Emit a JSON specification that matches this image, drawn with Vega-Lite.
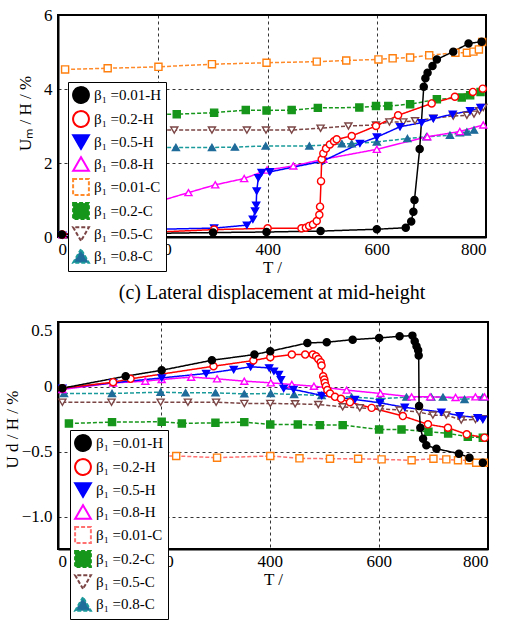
{
  "$schema": "https://vega.github.io/schema/vega-lite/v6.json",
  "padding": {"left": 2, "top": 5, "right": 5, "bottom": 5},
  "datasets": {
    "c": [
      {"s": "β₁ =0.8-C", "T": 150, "V": 2.42}, {"s": "β₁ =0.8-C", "T": 232, "V": 2.42}, {"s": "β₁ =0.8-C", "T": 298, "V": 2.42}, {"s": "β₁ =0.8-C", "T": 340, "V": 2.43}, {"s": "β₁ =0.8-C", "T": 396.5, "V": 2.46}, {"s": "β₁ =0.8-C", "T": 476.5, "V": 2.46}, {"s": "β₁ =0.8-C", "T": 536, "V": 2.52}, {"s": "β₁ =0.8-C", "T": 554, "V": 2.52}, {"s": "β₁ =0.8-C", "T": 600, "V": 2.57}, {"s": "β₁ =0.8-C", "T": 656, "V": 2.66}, {"s": "β₁ =0.8-C", "T": 691, "V": 2.71}, {"s": "β₁ =0.8-C", "T": 734, "V": 2.75}, {"s": "β₁ =0.8-C", "T": 752, "V": 2.82}, {"s": "β₁ =0.8-C", "T": 765, "V": 2.84}, {"s": "β₁ =0.8-C", "T": 778, "V": 2.89},
      {"s": "β₁ =0.5-C", "T": 150, "V": 2.89}, {"s": "β₁ =0.5-C", "T": 229, "V": 2.89}, {"s": "β₁ =0.5-C", "T": 298, "V": 2.89}, {"s": "β₁ =0.5-C", "T": 362, "V": 2.89}, {"s": "β₁ =0.5-C", "T": 397, "V": 2.89}, {"s": "β₁ =0.5-C", "T": 444, "V": 2.89}, {"s": "β₁ =0.5-C", "T": 497, "V": 2.94}, {"s": "β₁ =0.5-C", "T": 548, "V": 3.0}, {"s": "β₁ =0.5-C", "T": 598.5, "V": 3.03}, {"s": "β₁ =0.5-C", "T": 623, "V": 3.11}, {"s": "β₁ =0.5-C", "T": 648.5, "V": 3.11}, {"s": "β₁ =0.5-C", "T": 670, "V": 3.14}, {"s": "β₁ =0.5-C", "T": 703.5, "V": 3.21}, {"s": "β₁ =0.5-C", "T": 740, "V": 3.27}, {"s": "β₁ =0.5-C", "T": 765, "V": 3.29}, {"s": "β₁ =0.5-C", "T": 778, "V": 3.32}, {"s": "β₁ =0.5-C", "T": 788, "V": 3.41}, {"s": "β₁ =0.5-C", "T": 795, "V": 3.5},
      {"s": "β₁ =0.2-C", "T": 150, "V": 3.3}, {"s": "β₁ =0.2-C", "T": 233.5, "V": 3.32}, {"s": "β₁ =0.2-C", "T": 302, "V": 3.36}, {"s": "β₁ =0.2-C", "T": 360, "V": 3.43}, {"s": "β₁ =0.2-C", "T": 398, "V": 3.42}, {"s": "β₁ =0.2-C", "T": 444, "V": 3.43}, {"s": "β₁ =0.2-C", "T": 492, "V": 3.49}, {"s": "β₁ =0.2-C", "T": 568, "V": 3.5}, {"s": "β₁ =0.2-C", "T": 598.5, "V": 3.54}, {"s": "β₁ =0.2-C", "T": 621, "V": 3.54}, {"s": "β₁ =0.2-C", "T": 661, "V": 3.59}, {"s": "β₁ =0.2-C", "T": 710, "V": 3.72}, {"s": "β₁ =0.2-C", "T": 755.5, "V": 3.77}, {"s": "β₁ =0.2-C", "T": 771, "V": 3.83}, {"s": "β₁ =0.2-C", "T": 790, "V": 3.92},
      {"s": "β₁ =0.01-C", "T": 29, "V": 4.53}, {"s": "β₁ =0.01-C", "T": 107, "V": 4.56}, {"s": "β₁ =0.01-C", "T": 200, "V": 4.6}, {"s": "β₁ =0.01-C", "T": 298, "V": 4.67}, {"s": "β₁ =0.01-C", "T": 398, "V": 4.71}, {"s": "β₁ =0.01-C", "T": 490, "V": 4.74}, {"s": "β₁ =0.01-C", "T": 544, "V": 4.77}, {"s": "β₁ =0.01-C", "T": 603, "V": 4.8}, {"s": "β₁ =0.01-C", "T": 629, "V": 4.83}, {"s": "β₁ =0.01-C", "T": 661, "V": 4.85}, {"s": "β₁ =0.01-C", "T": 696, "V": 4.91}, {"s": "β₁ =0.01-C", "T": 744, "V": 4.98}, {"s": "β₁ =0.01-C", "T": 765, "V": 4.98}, {"s": "β₁ =0.01-C", "T": 777, "V": 5.01}, {"s": "β₁ =0.01-C", "T": 787, "V": 5.07}, {"s": "β₁ =0.01-C", "T": 793, "V": 5.27},
      {"s": "β₁ =0.8-H", "T": 24, "V": 0.07}, {"s": "β₁ =0.8-H", "T": 99, "V": 0.19}, {"s": "β₁ =0.8-H", "T": 131.5, "V": 0.17}, {"s": "β₁ =0.8-H", "T": 145, "V": 0.21}, {"s": "β₁ =0.8-H", "T": 152, "V": 0.34}, {"s": "β₁ =0.8-H", "T": 157, "V": 0.46}, {"s": "β₁ =0.8-H", "T": 162, "V": 0.59}, {"s": "β₁ =0.8-H", "T": 169, "V": 0.7}, {"s": "β₁ =0.8-H", "T": 175.5, "V": 0.77}, {"s": "β₁ =0.8-H", "T": 189, "V": 0.88}, {"s": "β₁ =0.8-H", "T": 200, "V": 0.96}, {"s": "β₁ =0.8-H", "T": 255, "V": 1.2}, {"s": "β₁ =0.8-H", "T": 304, "V": 1.41}, {"s": "β₁ =0.8-H", "T": 357, "V": 1.58}, {"s": "β₁ =0.8-H", "T": 399, "V": 1.81}, {"s": "β₁ =0.8-H", "T": 447, "V": 1.92}, {"s": "β₁ =0.8-H", "T": 502, "V": 2.1}, {"s": "β₁ =0.8-H", "T": 600, "V": 2.37}, {"s": "β₁ =0.8-H", "T": 692.5, "V": 2.71}, {"s": "β₁ =0.8-H", "T": 752, "V": 2.85}, {"s": "β₁ =0.8-H", "T": 795, "V": 3.03},
      {"s": "β₁ =0.5-H", "T": 24, "V": 0.05}, {"s": "β₁ =0.5-H", "T": 99, "V": 0.135}, {"s": "β₁ =0.5-H", "T": 201, "V": 0.21}, {"s": "β₁ =0.5-H", "T": 302, "V": 0.24}, {"s": "β₁ =0.5-H", "T": 362, "V": 0.32}, {"s": "β₁ =0.5-H", "T": 373, "V": 0.48}, {"s": "β₁ =0.5-H", "T": 377, "V": 0.7}, {"s": "β₁ =0.5-H", "T": 379, "V": 0.86}, {"s": "β₁ =0.5-H", "T": 380, "V": 1.24}, {"s": "β₁ =0.5-H", "T": 383, "V": 1.6}, {"s": "β₁ =0.5-H", "T": 389, "V": 1.74}, {"s": "β₁ =0.5-H", "T": 404, "V": 1.76}, {"s": "β₁ =0.5-H", "T": 501, "V": 2.05}, {"s": "β₁ =0.5-H", "T": 569, "V": 2.53}, {"s": "β₁ =0.5-H", "T": 600, "V": 2.7}, {"s": "β₁ =0.5-H", "T": 642.5, "V": 2.98}, {"s": "β₁ =0.5-H", "T": 682, "V": 3.09}, {"s": "β₁ =0.5-H", "T": 703.5, "V": 3.2}, {"s": "β₁ =0.5-H", "T": 739, "V": 3.32}, {"s": "β₁ =0.5-H", "T": 771, "V": 3.41}, {"s": "β₁ =0.5-H", "T": 790, "V": 3.5},
      {"s": "β₁ =0.2-H", "T": 24, "V": 0.07}, {"s": "β₁ =0.2-H", "T": 201, "V": 0.135}, {"s": "β₁ =0.2-H", "T": 302, "V": 0.2}, {"s": "β₁ =0.2-H", "T": 400, "V": 0.235}, {"s": "β₁ =0.2-H", "T": 462, "V": 0.235}, {"s": "β₁ =0.2-H", "T": 470, "V": 0.25}, {"s": "β₁ =0.2-H", "T": 476, "V": 0.3}, {"s": "β₁ =0.2-H", "T": 483, "V": 0.34}, {"s": "β₁ =0.2-H", "T": 490, "V": 0.43}, {"s": "β₁ =0.2-H", "T": 494.7, "V": 0.6}, {"s": "β₁ =0.2-H", "T": 496, "V": 0.82}, {"s": "β₁ =0.2-H", "T": 497.8, "V": 1.51}, {"s": "β₁ =0.2-H", "T": 499, "V": 2.1}, {"s": "β₁ =0.2-H", "T": 502, "V": 2.26}, {"s": "β₁ =0.2-H", "T": 507, "V": 2.39}, {"s": "β₁ =0.2-H", "T": 514, "V": 2.5}, {"s": "β₁ =0.2-H", "T": 521.6, "V": 2.59}, {"s": "β₁ =0.2-H", "T": 526.5, "V": 2.64}, {"s": "β₁ =0.2-H", "T": 554, "V": 2.73}, {"s": "β₁ =0.2-H", "T": 598.5, "V": 3.0}, {"s": "β₁ =0.2-H", "T": 639, "V": 3.29}, {"s": "β₁ =0.2-H", "T": 700.5, "V": 3.61}, {"s": "β₁ =0.2-H", "T": 743, "V": 3.79}, {"s": "β₁ =0.2-H", "T": 776, "V": 3.92}, {"s": "β₁ =0.2-H", "T": 794, "V": 4.01},
      {"s": "β₁ =0.01-H", "T": 23, "V": 0.07}, {"s": "β₁ =0.01-H", "T": 200, "V": 0.1}, {"s": "β₁ =0.01-H", "T": 300, "V": 0.12}, {"s": "β₁ =0.01-H", "T": 398, "V": 0.135}, {"s": "β₁ =0.01-H", "T": 497, "V": 0.16}, {"s": "β₁ =0.01-H", "T": 600, "V": 0.21}, {"s": "β₁ =0.01-H", "T": 653, "V": 0.25}, {"s": "β₁ =0.01-H", "T": 663, "V": 0.42}, {"s": "β₁ =0.01-H", "T": 667, "V": 0.68}, {"s": "β₁ =0.01-H", "T": 669, "V": 1.0}, {"s": "β₁ =0.01-H", "T": 678.5, "V": 2.38}, {"s": "β₁ =0.01-H", "T": 686, "V": 4.06}, {"s": "β₁ =0.01-H", "T": 689, "V": 4.29}, {"s": "β₁ =0.01-H", "T": 693, "V": 4.44}, {"s": "β₁ =0.01-H", "T": 702, "V": 4.62}, {"s": "β₁ =0.01-H", "T": 710, "V": 4.8}, {"s": "β₁ =0.01-H", "T": 740, "V": 5.01}, {"s": "β₁ =0.01-H", "T": 768, "V": 5.23}, {"s": "β₁ =0.01-H", "T": 792, "V": 5.28}
    ],
    "d": [
      {"s": "β₁ =0.8-C", "T": 23, "V": -0.051}, {"s": "β₁ =0.8-C", "T": 111, "V": -0.051}, {"s": "β₁ =0.8-C", "T": 200, "V": -0.041}, {"s": "β₁ =0.8-C", "T": 245.7, "V": -0.046}, {"s": "β₁ =0.8-C", "T": 300.5, "V": -0.046}, {"s": "β₁ =0.8-C", "T": 353.4, "V": -0.054}, {"s": "β₁ =0.8-C", "T": 402, "V": -0.051}, {"s": "β₁ =0.8-C", "T": 444.7, "V": -0.059}, {"s": "β₁ =0.8-C", "T": 495, "V": -0.066}, {"s": "β₁ =0.8-C", "T": 550, "V": -0.079}, {"s": "β₁ =0.8-C", "T": 602, "V": -0.092}, {"s": "β₁ =0.8-C", "T": 650.6, "V": -0.079}, {"s": "β₁ =0.8-C", "T": 696, "V": -0.079}, {"s": "β₁ =0.8-C", "T": 717.5, "V": -0.079}, {"s": "β₁ =0.8-C", "T": 757, "V": -0.097}, {"s": "β₁ =0.8-C", "T": 790.5, "V": -0.079},
      {"s": "β₁ =0.5-C", "T": 20, "V": -0.118}, {"s": "β₁ =0.5-C", "T": 110, "V": -0.118}, {"s": "β₁ =0.5-C", "T": 200, "V": -0.118}, {"s": "β₁ =0.5-C", "T": 250, "V": -0.118}, {"s": "β₁ =0.5-C", "T": 301.7, "V": -0.118}, {"s": "β₁ =0.5-C", "T": 353.4, "V": -0.128}, {"s": "β₁ =0.5-C", "T": 401, "V": -0.128}, {"s": "β₁ =0.5-C", "T": 446.6, "V": -0.131}, {"s": "β₁ =0.5-C", "T": 489, "V": -0.136}, {"s": "β₁ =0.5-C", "T": 533.7, "V": -0.154}, {"s": "β₁ =0.5-C", "T": 565, "V": -0.162}, {"s": "β₁ =0.5-C", "T": 602, "V": -0.169}, {"s": "β₁ =0.5-C", "T": 638, "V": -0.179}, {"s": "β₁ =0.5-C", "T": 673.6, "V": -0.195}, {"s": "β₁ =0.5-C", "T": 699, "V": -0.218}, {"s": "β₁ =0.5-C", "T": 723.6, "V": -0.218}, {"s": "β₁ =0.5-C", "T": 751, "V": -0.256}, {"s": "β₁ =0.5-C", "T": 777, "V": -0.251}, {"s": "β₁ =0.5-C", "T": 790.5, "V": -0.246},
      {"s": "β₁ =0.2-C", "T": 32, "V": -0.282}, {"s": "β₁ =0.2-C", "T": 111, "V": -0.272}, {"s": "β₁ =0.2-C", "T": 202, "V": -0.269}, {"s": "β₁ =0.2-C", "T": 239, "V": -0.282}, {"s": "β₁ =0.2-C", "T": 300.5, "V": -0.277}, {"s": "β₁ =0.2-C", "T": 353.4, "V": -0.272}, {"s": "β₁ =0.2-C", "T": 401, "V": -0.29}, {"s": "β₁ =0.2-C", "T": 451.5, "V": -0.29}, {"s": "β₁ =0.2-C", "T": 492, "V": -0.295}, {"s": "β₁ =0.2-C", "T": 533.7, "V": -0.295}, {"s": "β₁ =0.2-C", "T": 600.5, "V": -0.328}, {"s": "β₁ =0.2-C", "T": 641.5, "V": -0.328}, {"s": "β₁ =0.2-C", "T": 690.8, "V": -0.346}, {"s": "β₁ =0.2-C", "T": 727, "V": -0.359}, {"s": "β₁ =0.2-C", "T": 763, "V": -0.385}, {"s": "β₁ =0.2-C", "T": 790.5, "V": -0.392},
      {"s": "β₁ =0.01-C", "T": 150, "V": -0.53}, {"s": "β₁ =0.01-C", "T": 228.6, "V": -0.533}, {"s": "β₁ =0.01-C", "T": 303.5, "V": -0.546}, {"s": "β₁ =0.01-C", "T": 401, "V": -0.533}, {"s": "β₁ =0.01-C", "T": 454.5, "V": -0.551}, {"s": "β₁ =0.01-C", "T": 510.5, "V": -0.554}, {"s": "β₁ =0.01-C", "T": 562, "V": -0.554}, {"s": "β₁ =0.01-C", "T": 605, "V": -0.559}, {"s": "β₁ =0.01-C", "T": 660, "V": -0.566}, {"s": "β₁ =0.01-C", "T": 700, "V": -0.554}, {"s": "β₁ =0.01-C", "T": 723.6, "V": -0.559}, {"s": "β₁ =0.01-C", "T": 745, "V": -0.566}, {"s": "β₁ =0.01-C", "T": 765, "V": -0.566}, {"s": "β₁ =0.01-C", "T": 778.4, "V": -0.585}, {"s": "β₁ =0.01-C", "T": 792.4, "V": -0.585},
      {"s": "β₁ =0.8-H", "T": 20, "V": -0.02}, {"s": "β₁ =0.8-H", "T": 113, "V": 0.03}, {"s": "β₁ =0.8-H", "T": 172, "V": 0.044}, {"s": "β₁ =0.8-H", "T": 202, "V": 0.057}, {"s": "β₁ =0.8-H", "T": 256, "V": 0.075}, {"s": "β₁ =0.8-H", "T": 303.5, "V": 0.062}, {"s": "β₁ =0.8-H", "T": 353.4, "V": 0.044}, {"s": "β₁ =0.8-H", "T": 402, "V": 0.031}, {"s": "β₁ =0.8-H", "T": 440.5, "V": 0.018}, {"s": "β₁ =0.8-H", "T": 481, "V": 0.005}, {"s": "β₁ =0.8-H", "T": 541, "V": -0.025}, {"s": "β₁ =0.8-H", "T": 603, "V": -0.051}, {"s": "β₁ =0.8-H", "T": 660, "V": -0.077}, {"s": "β₁ =0.8-H", "T": 694, "V": -0.077}, {"s": "β₁ =0.8-H", "T": 740.6, "V": -0.082}, {"s": "β₁ =0.8-H", "T": 777, "V": -0.077}, {"s": "β₁ =0.8-H", "T": 793.6, "V": -0.077},
      {"s": "β₁ =0.5-H", "T": 20, "V": -0.01}, {"s": "β₁ =0.5-H", "T": 113, "V": 0.031}, {"s": "β₁ =0.5-H", "T": 202, "V": 0.069}, {"s": "β₁ =0.5-H", "T": 283.5, "V": 0.103}, {"s": "β₁ =0.5-H", "T": 334, "V": 0.134}, {"s": "β₁ =0.5-H", "T": 365, "V": 0.155}, {"s": "β₁ =0.5-H", "T": 399, "V": 0.146}, {"s": "β₁ =0.5-H", "T": 407.6, "V": 0.121}, {"s": "β₁ =0.5-H", "T": 416.7, "V": 0.095}, {"s": "β₁ =0.5-H", "T": 420.5, "V": 0.055}, {"s": "β₁ =0.5-H", "T": 425.5, "V": -0.012}, {"s": "β₁ =0.5-H", "T": 443.6, "V": -0.02}, {"s": "β₁ =0.5-H", "T": 495.3, "V": -0.066}, {"s": "β₁ =0.5-H", "T": 556, "V": -0.097}, {"s": "β₁ =0.5-H", "T": 602, "V": -0.123}, {"s": "β₁ =0.5-H", "T": 647.5, "V": -0.158}, {"s": "β₁ =0.5-H", "T": 714.5, "V": -0.195}, {"s": "β₁ =0.5-H", "T": 748, "V": -0.222}, {"s": "β₁ =0.5-H", "T": 781, "V": -0.238}, {"s": "β₁ =0.5-H", "T": 790.5, "V": -0.251},
      {"s": "β₁ =0.2-H", "T": 20, "V": -0.01}, {"s": "β₁ =0.2-H", "T": 113, "V": 0.036}, {"s": "β₁ =0.2-H", "T": 145, "V": 0.062}, {"s": "β₁ =0.2-H", "T": 297, "V": 0.159}, {"s": "β₁ =0.2-H", "T": 370, "V": 0.203}, {"s": "β₁ =0.2-H", "T": 401, "V": 0.228}, {"s": "β₁ =0.2-H", "T": 440.5, "V": 0.249}, {"s": "β₁ =0.2-H", "T": 465, "V": 0.249}, {"s": "β₁ =0.2-H", "T": 479, "V": 0.249}, {"s": "β₁ =0.2-H", "T": 485, "V": 0.236}, {"s": "β₁ =0.2-H", "T": 489, "V": 0.215}, {"s": "β₁ =0.2-H", "T": 493.5, "V": 0.19}, {"s": "β₁ =0.2-H", "T": 495, "V": 0.164}, {"s": "β₁ =0.2-H", "T": 498, "V": 0.082}, {"s": "β₁ =0.2-H", "T": 500, "V": 0.057}, {"s": "β₁ =0.2-H", "T": 501, "V": 0.031}, {"s": "β₁ =0.2-H", "T": 503, "V": 0.005}, {"s": "β₁ =0.2-H", "T": 505.6, "V": -0.025}, {"s": "β₁ =0.2-H", "T": 510.5, "V": -0.051}, {"s": "β₁ =0.2-H", "T": 519.6, "V": -0.077}, {"s": "β₁ =0.2-H", "T": 530.6, "V": -0.092}, {"s": "β₁ =0.2-H", "T": 547, "V": -0.118}, {"s": "β₁ =0.2-H", "T": 586.7, "V": -0.162}, {"s": "β₁ =0.2-H", "T": 644, "V": -0.225}, {"s": "β₁ =0.2-H", "T": 690, "V": -0.289}, {"s": "β₁ =0.2-H", "T": 726.6, "V": -0.315}, {"s": "β₁ =0.2-H", "T": 761, "V": -0.366}, {"s": "β₁ =0.2-H", "T": 793.6, "V": -0.392},
      {"s": "β₁ =0.01-H", "T": 20, "V": -0.01}, {"s": "β₁ =0.01-H", "T": 136, "V": 0.082}, {"s": "β₁ =0.01-H", "T": 202, "V": 0.128}, {"s": "β₁ =0.01-H", "T": 294, "V": 0.205}, {"s": "β₁ =0.01-H", "T": 372, "V": 0.249}, {"s": "β₁ =0.01-H", "T": 401, "V": 0.275}, {"s": "β₁ =0.01-H", "T": 469, "V": 0.338}, {"s": "β₁ =0.01-H", "T": 504.5, "V": 0.344}, {"s": "β₁ =0.01-H", "T": 552, "V": 0.364}, {"s": "β₁ =0.01-H", "T": 600.5, "V": 0.377}, {"s": "β₁ =0.01-H", "T": 638, "V": 0.39}, {"s": "β₁ =0.01-H", "T": 661.5, "V": 0.395}, {"s": "β₁ =0.01-H", "T": 665.7, "V": 0.352}, {"s": "β₁ =0.01-H", "T": 669, "V": 0.313}, {"s": "β₁ =0.01-H", "T": 672, "V": 0.282}, {"s": "β₁ =0.01-H", "T": 673, "V": 0.241}, {"s": "β₁ =0.01-H", "T": 673.7, "V": -0.148}, {"s": "β₁ =0.01-H", "T": 676, "V": -0.315}, {"s": "β₁ =0.01-H", "T": 681, "V": -0.4}, {"s": "β₁ =0.01-H", "T": 687, "V": -0.45}, {"s": "β₁ =0.01-H", "T": 705.5, "V": -0.477}, {"s": "β₁ =0.01-H", "T": 746.7, "V": -0.515}, {"s": "β₁ =0.01-H", "T": 766, "V": -0.546}, {"s": "β₁ =0.01-H", "T": 790.5, "V": -0.585}
    ]
  },
  "vconcat": [
    {
      "width": 428,
      "height": 222,
      "data": {"name": "c"},
      "view": {"stroke": "black", "strokeWidth": 2},
      "title": {"text": "(c) Lateral displacement at mid-height", "orient": "bottom", "anchor": "middle", "font": "Liberation Serif", "fontSize": 20, "fontWeight": "normal", "color": "black", "offset": 8},
      "encoding": {
        "x": {"field": "T", "type": "quantitative", "scale": {"domain": [16, 800], "nice": false, "zero": false},
          "axis": {"title": "T /", "values": [16, 200, 400, 600, 800], "labelExpr": "datum.value < 50 ? '0' : datum.label",
            "domain": true, "domainColor": "black", "domainWidth": 2, "grid": true, "gridColor": "black", "gridDash": [3, 3], "gridWidth": 0.8,
            "ticks": false,
            "labelFont": "Liberation Serif", "labelFontSize": 17, "labelColor": "black", "labelPadding": 4,
            "titleFont": "Liberation Serif", "titleFontSize": 17, "titleFontWeight": "normal", "titleColor": "black", "titlePadding": 2}},
        "y": {"field": "V", "type": "quantitative", "scale": {"domain": [0, 6], "nice": false},
          "axis": {"title": "Uₘ / H / %", "values": [0, 2, 4, 6],
            "domain": true, "domainColor": "black", "domainWidth": 2, "grid": true, "gridColor": "black", "gridDash": [3, 3], "gridWidth": 0.8,
            "ticks": false,
            "labelFont": "Liberation Serif", "labelFontSize": 17, "labelColor": "black", "labelPadding": 6,
            "titleFont": "Liberation Serif", "titleFontSize": 17, "titleFontWeight": "normal", "titleColor": "black",
            "titleX": -33, "titleY": 98, "titleAlign": "center", "titleBaseline": "middle", "titleAngle": -90}}
      },
      "layer": [
        {"mark": {"type": "line", "strokeWidth": 1.5},
          "encoding": {
            "color": {"field": "s", "type": "nominal", "scale": {"domain": ["β₁ =0.01-H", "β₁ =0.2-H", "β₁ =0.5-H", "β₁ =0.8-H", "β₁ =0.01-C", "β₁ =0.2-C", "β₁ =0.5-C", "β₁ =0.8-C"], "range": ["#000000", "#ff0000", "#0000ff", "#ff00ff", "#ff8a2a", "#16961a", "#7b4545", "#1a9a9a"]},
              "legend": {"orient": "none", "legendX": 10, "legendY": 67, "title": null, "fillColor": "white", "strokeColor": "black", "padding": 4, "labelFont": "Liberation Serif", "labelFontSize": 15, "labelColor": "black", "rowPadding": 0, "symbolType": "stroke", "symbolSize": 250, "symbolStrokeWidth": 2}},
            "strokeDash": {"field": "s", "type": "nominal", "legend": null, "scale": {"domain": ["β₁ =0.01-H", "β₁ =0.2-H", "β₁ =0.5-H", "β₁ =0.8-H", "β₁ =0.01-C", "β₁ =0.2-C", "β₁ =0.5-C", "β₁ =0.8-C"], "range": [[1, 0], [1, 0], [1, 0], [1, 0], [4, 2], [4, 2], [4, 2], [4, 2]]}}
          }},
        {"mark": {"type": "point", "size": 50, "strokeWidth": 1.4, "opacity": 1},
          "encoding": {
            "shape": {"field": "s", "type": "nominal", "legend": null, "scale": {"domain": ["β₁ =0.01-H", "β₁ =0.2-H", "β₁ =0.5-H", "β₁ =0.8-H", "β₁ =0.01-C", "β₁ =0.2-C", "β₁ =0.5-C", "β₁ =0.8-C"], "range": ["circle", "circle", "triangle-down", "triangle-up", "square", "square", "triangle-down", "triangle-up"]}},
            "stroke": {"field": "s", "type": "nominal", "legend": null, "scale": {"domain": ["β₁ =0.01-H", "β₁ =0.2-H", "β₁ =0.5-H", "β₁ =0.8-H", "β₁ =0.01-C", "β₁ =0.2-C", "β₁ =0.5-C", "β₁ =0.8-C"], "range": ["#000000", "#ff0000", "#0000ff", "#ff00ff", "#ff7f0e", "#16961a", "#7b4545", "#1f6b9a"]}},
            "fill": {"field": "s", "type": "nominal", "legend": null, "scale": {"domain": ["β₁ =0.01-H", "β₁ =0.2-H", "β₁ =0.5-H", "β₁ =0.8-H", "β₁ =0.01-C", "β₁ =0.2-C", "β₁ =0.5-C", "β₁ =0.8-C"], "range": ["#000000", "#ffffff", "#0000ff", "#ffffff", "#ffffff", "#16961a", "#ffffff", "#1f6b9a"]}}
          }}
      ]
    },
    {
      "width": 430,
      "height": 227,
      "data": {"name": "d"},
      "view": {"stroke": "black", "strokeWidth": 2},
      "title": {"text": "(d) Displacement at top end", "orient": "bottom", "anchor": "middle", "font": "Liberation Serif", "fontSize": 20, "fontWeight": "normal", "color": "black", "offset": 18},
      "encoding": {
        "x": {"field": "T", "type": "quantitative", "scale": {"domain": [12, 800], "nice": false, "zero": false},
          "axis": {"title": "T /", "values": [12, 200, 400, 600, 800], "labelExpr": "datum.value < 50 ? '0' : datum.label",
            "domain": true, "domainColor": "black", "domainWidth": 2, "grid": true, "gridColor": "black", "gridDash": [3, 3], "gridWidth": 0.8,
            "ticks": false,
            "labelFont": "Liberation Serif", "labelFontSize": 17, "labelColor": "black", "labelPadding": 4,
            "titleFont": "Liberation Serif", "titleFontSize": 17, "titleFontWeight": "normal", "titleColor": "black", "titlePadding": 2}},
        "y": {"field": "V", "type": "quantitative", "scale": {"domain": [-1.25, 0.5], "nice": false, "zero": false},
          "axis": {"title": "U d / H / %", "values": [-1, -0.5, 0, 0.5], "labelExpr": "datum.value == 0 ? '0' : format(datum.value, '.1f')",
            "domain": true, "domainColor": "black", "domainWidth": 2, "grid": true, "gridColor": "black", "gridDash": [3, 3], "gridWidth": 0.8,
            "ticks": false,
            "labelFlush": true, "labelFlushOffset": 0,
            "labelFont": "Liberation Serif", "labelFontSize": 17, "labelColor": "black", "labelPadding": 6,
            "titleFont": "Liberation Serif", "titleFontSize": 17, "titleFontWeight": "normal", "titleColor": "black",
            "titleX": -46, "titleY": 107, "titleAlign": "center", "titleBaseline": "middle", "titleAngle": -90}}
      },
      "layer": [
        {"mark": {"type": "line", "strokeWidth": 1.5},
          "encoding": {
            "color": {"field": "s", "type": "nominal", "scale": {"domain": ["β₁ =0.01-H", "β₁ =0.2-H", "β₁ =0.5-H", "β₁ =0.8-H", "β₁ =0.01-C", "β₁ =0.2-C", "β₁ =0.5-C", "β₁ =0.8-C"], "range": ["#000000", "#ff0000", "#0000ff", "#ff00ff", "#ff7070", "#16961a", "#7b4545", "#1a9a9a"]},
              "legend": {"orient": "none", "legendX": 12, "legendY": 108, "title": null, "fillColor": "white", "strokeColor": "black", "padding": 4, "labelFont": "Liberation Serif", "labelFontSize": 15, "labelColor": "black", "rowPadding": 0, "symbolType": "stroke", "symbolSize": 250, "symbolStrokeWidth": 2}},
            "strokeDash": {"field": "s", "type": "nominal", "legend": null, "scale": {"domain": ["β₁ =0.01-H", "β₁ =0.2-H", "β₁ =0.5-H", "β₁ =0.8-H", "β₁ =0.01-C", "β₁ =0.2-C", "β₁ =0.5-C", "β₁ =0.8-C"], "range": [[1, 0], [1, 0], [1, 0], [1, 0], [4, 2], [4, 2], [4, 2], [4, 2]]}}
          }},
        {"mark": {"type": "point", "size": 50, "strokeWidth": 1.4, "opacity": 1},
          "encoding": {
            "shape": {"field": "s", "type": "nominal", "legend": null, "scale": {"domain": ["β₁ =0.01-H", "β₁ =0.2-H", "β₁ =0.5-H", "β₁ =0.8-H", "β₁ =0.01-C", "β₁ =0.2-C", "β₁ =0.5-C", "β₁ =0.8-C"], "range": ["circle", "circle", "triangle-down", "triangle-up", "square", "square", "triangle-down", "triangle-up"]}},
            "stroke": {"field": "s", "type": "nominal", "legend": null, "scale": {"domain": ["β₁ =0.01-H", "β₁ =0.2-H", "β₁ =0.5-H", "β₁ =0.8-H", "β₁ =0.01-C", "β₁ =0.2-C", "β₁ =0.5-C", "β₁ =0.8-C"], "range": ["#000000", "#ff0000", "#0000ff", "#ff00ff", "#ff7f0e", "#16961a", "#7b4545", "#1f6b9a"]}},
            "fill": {"field": "s", "type": "nominal", "legend": null, "scale": {"domain": ["β₁ =0.01-H", "β₁ =0.2-H", "β₁ =0.5-H", "β₁ =0.8-H", "β₁ =0.01-C", "β₁ =0.2-C", "β₁ =0.5-C", "β₁ =0.8-C"], "range": ["#000000", "#ffffff", "#0000ff", "#ffffff", "#ffffff", "#16961a", "#ffffff", "#1f6b9a"]}}
          }}
      ]
    }
  ],
  "spacing": 16,
  "resolve": {"scale": {"shape": "independent", "stroke": "independent", "fill": "independent", "color": "independent", "strokeDash": "independent"}}
}
